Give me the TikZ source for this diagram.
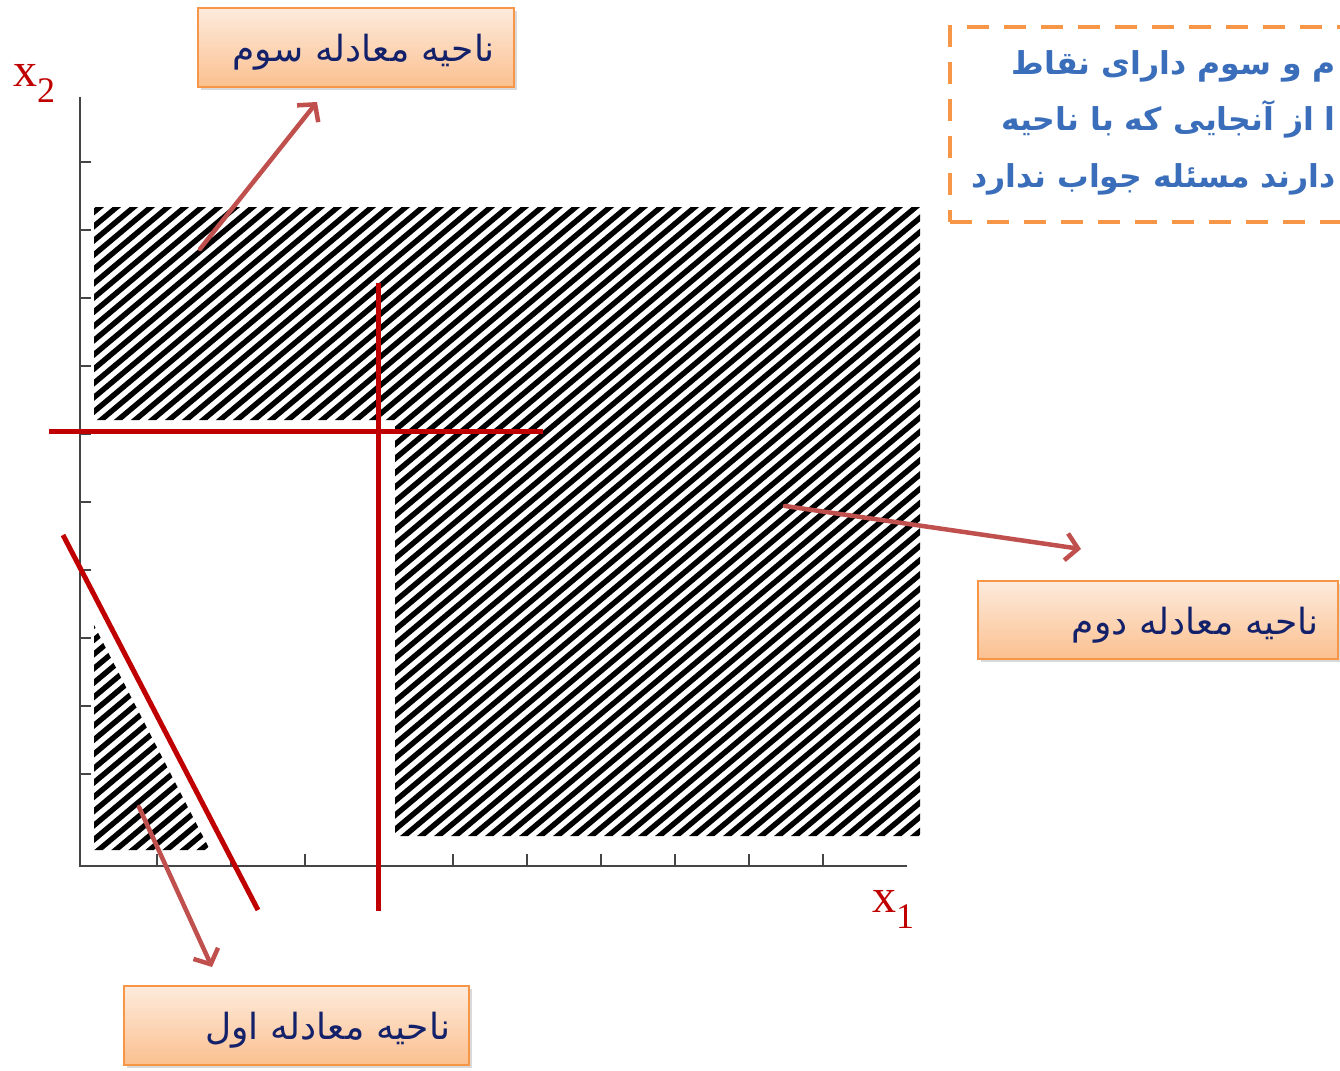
\documentclass[tikz,border=0pt]{standalone}
\usepackage{fontspec}
\usetikzlibrary{arrows.meta,shadows,calc}
\TeXXeTstate=1
\newfontfamily\arabicfont[Script=Arabic]{DejaVu Sans}
\newfontfamily\tnr{Liberation Serif}
\definecolor{redline}{HTML}{C00000}
\definecolor{arrowcol}{HTML}{C0504D}
\definecolor{oborder}{HTML}{F79646}
\definecolor{otop}{HTML}{FDEBDD}
\definecolor{obot}{HTML}{FBC08F}
\definecolor{navy}{HTML}{13206A}
\definecolor{noteblue}{HTML}{3A6DBA}
\definecolor{axisgray}{HTML}{454545}
\begin{document}
\begin{tikzpicture}[x=1pt,y=-1pt,
  hatchline/.style={line width=5.4pt},
  axisline/.style={axisgray,line width=2.5pt},
  tickline/.style={axisgray,line width=1.8pt},
  redcut/.style={redline,line width=5pt},
  callarrow/.style={arrowcol,line width=4.5pt,line cap=round,-{Straight Barb[length=12pt,width=27pt]}},
  obox/.style={draw=oborder,line width=2.5pt,top color=otop,bottom color=obot,
    inner xsep=19pt,inner ysep=0pt,align=right,text=navy,
    font=\arabicfont\fontsize{36}{42}\selectfont,
    drop shadow={shadow xshift=3pt,shadow yshift=-3pt,opacity=0.3}},
  notetext/.style={text=noteblue,inner sep=0pt,font=\arabicfont\bfseries\fontsize{31.5}{36}\selectfont},
  redlabel/.style={text=redline,inner sep=0pt,font=\tnr\fontsize{48}{50}\selectfont}
]
\useasboundingbox (0,0) rectangle (1340,1070);
\clip (0,0) rectangle (1340,1070);

% hatched regions
\begin{scope}
\clip (94,207) -- (920,207) -- (920,836) -- (395,836) -- (395,420) -- (94,420) -- cycle
      (94,625) -- (94,850) -- (210,850) -- cycle;
\foreach \i in {0,...,130} \draw[hatchline] ({-1100+\i*17},900) -- ++(1072.6,-900);
\end{scope}

% axes
\coordinate (origin) at (80,866);
\coordinate (ytop) at (80,97);
\coordinate (xend) at (907,866);
\draw[axisline] (ytop) -- (origin) -- (xend);
\foreach \y in {162,230,...,774} \draw[tickline] (80,\y) -- ++(11,0);
\foreach \x in {157,231,...,823} \draw[tickline] (\x,866) -- ++(0,-12);

\node[redlabel,anchor=base west] (x2lab) at (13,87) {x\raisebox{-16pt}{\fontsize{36}{40}\selectfont 2}};
\node[redlabel,anchor=base west] (x1lab) at (872,912) {x\raisebox{-16pt}{\fontsize{36}{40}\selectfont 1}};

% constraint lines
\coordinate (h1) at (49,431);
\coordinate (h2) at (543,431);
\coordinate (v1) at (378,283);
\coordinate (v2) at (378,911);
\coordinate (d1) at (63,535);
\coordinate (d2) at (258,910);
\draw[redcut] (h1) -- (h2);
\draw[redcut] (v1) -- (v2);
\draw[redcut] (d1) -- (d2);

% boxes
\node[obox,minimum width=316pt,minimum height=79pt,text width=278pt] (b3) at (356,47.5)
  {\raisebox{-5pt}[\height][\depth]{\beginR ناحیه معادله سوم\endR}};
\node[obox,minimum width=360pt,minimum height=78pt,text width=322pt] (b2) at (1158,620)
  {\raisebox{-5pt}[\height][\depth]{\beginR ناحیه معادله دوم\endR}};
\node[obox,minimum width=345pt,minimum height=79pt,text width=307pt] (b1) at (296.5,1025.5)
  {\raisebox{-5pt}[\height][\depth]{\beginR ناحیه معادله اول\endR}};

% arrows
\coordinate (a3s) at (200,249);
\coordinate (a3e) at (317,102);
\coordinate (a2s) at (785,506);
\coordinate (a2e) at (1081,549);
\coordinate (a1s) at (139,807);
\coordinate (a1e) at (212,967);
\draw[callarrow] (a3s) -- (a3e);
\draw[callarrow] (a2s) -- (a2e);
\draw[callarrow] (a1s) -- (a1e);

% note box
\node[draw=oborder,line width=4pt,dash pattern=on 22pt off 15pt,anchor=north west,
      minimum width=440pt,minimum height=195pt,inner sep=0pt] (note) at (948,25) {};
\node[notetext,anchor=base east] (n1) at (1336,75) {\beginR م و سوم دارای نقاط\endR};
\node[notetext,anchor=base east] (n2) at (1336,130) {\beginR ا از آنجایی که با ناحیه\endR};
\node[notetext,anchor=base east] (n3) at (1336,187) {\beginR دارند مسئله جواب ندارد\endR};
\end{tikzpicture}
\end{document}
